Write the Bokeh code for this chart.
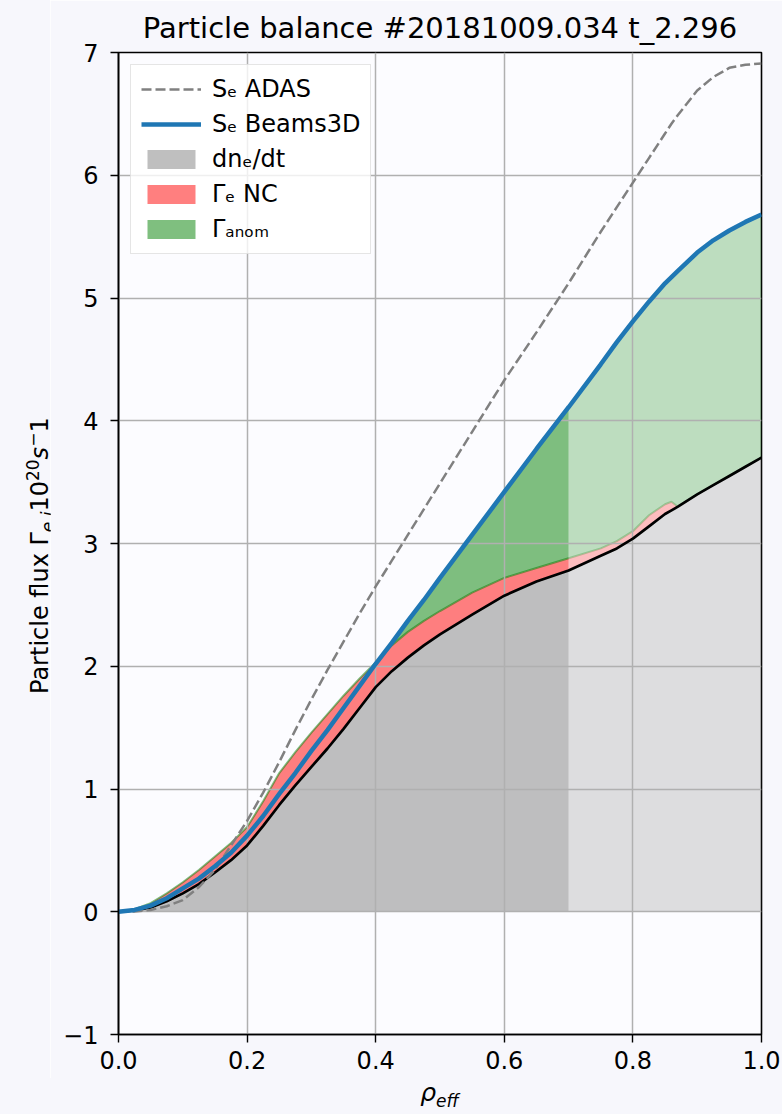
import numpy as np
from bokeh.plotting import figure
from bokeh.layouts import row, column
from bokeh.models import (FixedTicker, PrintfTickFormatter, Legend, LegendItem,
                          Range1d, Div)
from bokeh.embed import file_html
from bokeh.resources import INLINE

# ---- data ----
rho = [0.0, 0.025, 0.05, 0.075, 0.10, 0.125, 0.15, 0.175, 0.20, 0.225, 0.25, 0.275,
       0.30, 0.325, 0.35, 0.375, 0.40, 0.425, 0.45, 0.475, 0.50, 0.55, 0.60, 0.65,
       0.70, 0.75, 0.775, 0.80, 0.825, 0.85, 0.86, 0.87, 0.90, 0.925, 0.95, 0.975, 1.00]
dne_dt = [0.0, 0.01, 0.035, 0.085, 0.15, 0.225, 0.32, 0.42, 0.54, 0.70, 0.87, 1.03,
          1.18, 1.33, 1.49, 1.66, 1.83, 1.96, 2.07, 2.17, 2.26, 2.42, 2.575, 2.69,
          2.78, 2.90, 2.96, 3.04, 3.14, 3.24, 3.27, 3.30, 3.40, 3.475, 3.55, 3.625, 3.70]
gamma_nc = [0.0, 0.01, 0.035, 0.065, 0.09, 0.115, 0.13, 0.14, 0.15, 0.20, 0.26, 0.27,
            0.28, 0.28, 0.27, 0.24, 0.20, 0.21, 0.21, 0.20, 0.19, 0.18, 0.145, 0.11,
            0.10, 0.06, 0.06, 0.06, 0.09, 0.08, 0.07, 0.0, 0.0, 0.0, 0.0, 0.0, 0.0]
se_beams3d = [0.0, 0.015, 0.05, 0.11, 0.19, 0.27, 0.37, 0.48, 0.62, 0.78, 0.96, 1.13,
              1.31, 1.48, 1.66, 1.84, 2.02, 2.19, 2.37, 2.54, 2.72, 3.07, 3.42, 3.77,
              4.11, 4.46, 4.64, 4.81, 4.97, 5.12, 5.17, 5.22, 5.37, 5.47, 5.55, 5.62, 5.68]
se_adas = [0.0, 0.003, 0.015, 0.045, 0.095, 0.20, 0.34, 0.54, 0.74, 0.97, 1.22, 1.48,
           1.73, 1.97, 2.20, 2.43, 2.65, 2.86, 3.07, 3.28, 3.49, 3.91, 4.33, 4.72,
           5.12, 5.54, 5.74, 5.94, 6.14, 6.34, 6.42, 6.49, 6.69, 6.80, 6.875, 6.90, 6.91]
rho_split = 0.7
x_ticks = [0.0, 0.2, 0.4, 0.6, 0.8, 1.0]
y_ticks = [-1, 0, 1, 2, 3, 4, 5, 6, 7]

x = np.array(rho)
d = np.array(dne_dt)
top = d + np.array(gamma_nc)
b = np.array(se_beams3d)
gtop = np.maximum(b, top)
dark = x <= rho_split
light = x >= rho_split

FONT = "DejaVu Sans"
BG = "#f7f7fc"
YLAB_W = 50          # width of the y-label strip
FIG_LEFT = 68        # left border of the figure itself
FIG_W = FIG_LEFT + 643 + 21
FIG_H = 52 + 982 + 44
TOTAL_H = 1114

p = figure(frame_width=643, frame_height=982,
           x_range=Range1d(0, 1), y_range=Range1d(-1, 7),
           output_backend="svg", toolbar_location=None,
           min_border_left=FIG_LEFT, min_border_right=21,
           min_border_top=52, min_border_bottom=44,
           title="Particle balance #20181009.034 t_2.296")
p.background_fill_color = "#fcfcff"
p.border_fill_color = BG
p.outline_line_color = "black"
p.outline_line_width = 1.6
p.outline_line_alpha = 1.0

p.title.text_font = FONT
p.title.text_font_size = "29px"
p.title.text_font_style = "normal"
p.title.align = "center"
p.title.text_color = "black"
p.title.standoff = 15

# ---- filled areas (dark up to rho_split, light beyond) ----
g_dark = p.varea(x[dark], np.zeros(dark.sum()), d[dark], fill_color="gray",
                 fill_alpha=0.5, level="image")
p.varea(x[light], np.zeros(light.sum()), d[light], fill_color="gray",
        fill_alpha=0.25, level="image")
r_dark = p.varea(x[dark], d[dark], top[dark], fill_color="red",
                 fill_alpha=0.5, level="image")
p.varea(x[light], d[light], top[light], fill_color="red",
        fill_alpha=0.25, level="image")
a_dark = p.varea(x[dark], top[dark], gtop[dark], fill_color="green",
                 fill_alpha=0.5, level="image")
p.varea(x[light], top[light], gtop[light], fill_color="green",
        fill_alpha=0.25, level="image")
p.line(x[dark], top[dark], line_color="green", line_alpha=0.5, line_width=2,
       level="image")
p.line(x[light], top[light], line_color="green", line_alpha=0.25, line_width=2,
       level="image")

# ---- lines ----
p.line(x, d, line_color="black", line_width=2.7)
adas_r = p.line(x, se_adas, line_color="gray", line_width=2.5, line_dash="10 4")
beams_r = p.line(x, b, line_color="#1f77b4", line_width=4.5)

# ---- axes ----
p.xaxis.ticker = FixedTicker(ticks=x_ticks)
p.xaxis.formatter = PrintfTickFormatter(format="%.1f")
p.yaxis.ticker = FixedTicker(ticks=y_ticks)
p.yaxis.major_label_overrides = {-1: "\u22121"}
for ax in (p.xaxis, p.yaxis):
    ax.axis_line_width = 1.6
    ax.axis_line_color = "black"
    ax.major_tick_line_width = 1.4
    ax.major_tick_line_color = "black"
    ax.major_tick_out = 8
    ax.major_tick_in = 0
    ax.minor_tick_line_color = None
    ax.major_label_text_font = FONT
    ax.major_label_text_font_size = "24px"
    ax.major_label_text_color = "black"
p.xaxis.major_label_standoff = 8
p.yaxis.major_label_standoff = 12

p.grid.grid_line_color = "#b0b0b0"
p.grid.grid_line_width = 1.5

# ---- legend ----
legend = Legend(items=[
    LegendItem(label="S\u2091 ADAS", renderers=[adas_r]),
    LegendItem(label="S\u2091 Beams3D", renderers=[beams_r]),
    LegendItem(label="dn\u2091/dt", renderers=[g_dark]),
    LegendItem(label="\u0393\u2091 NC", renderers=[r_dark]),
    LegendItem(label="\u0393\u2090\u2099\u2092\u2098", renderers=[a_dark]),
], location="top_left")
legend.margin = 12
legend.padding = 10
legend.spacing = 7
legend.glyph_width = 60
legend.glyph_height = 24
legend.label_height = 24
legend.label_standoff = 11
legend.label_text_font = FONT
legend.label_text_font_size = "24px"
legend.label_text_color = "black"
legend.border_line_color = "#cccccc"
legend.border_line_width = 1.5
legend.background_fill_color = "white"
legend.background_fill_alpha = 0.8
p.add_layout(legend)

# ---- axis labels with sub/superscripts (HTML text) ----
ylab_html = (
    f'<div style="position:relative;box-sizing:border-box;width:{YLAB_W}px;'
    f'height:{TOTAL_H}px;background:{BG};">'
    '<div style="position:absolute;left:26px;top:694px;transform-origin:0 0;'
    'transform:rotate(-90deg);white-space:nowrap;font-family:\'DejaVu Sans\';'
    'font-size:24px;line-height:28px;color:black;">'
    'Particle flux \u0393<sub style="font-size:17px;line-height:0"><i>e,i</i></sub>'
    '10<sup style="font-size:17px;line-height:0">20</sup><i>s</i>'
    '<sup style="font-size:17px;line-height:0">\u2212</sup>1</div></div>'
)
ylab = Div(text=ylab_html, width=YLAB_W, height=TOTAL_H, margin=0,
           styles={"background-color": BG})

xlab_pad = 2 * (FIG_LEFT + 643 / 2) - FIG_W
xlab_html = (
    f'<div style="box-sizing:border-box;width:{FIG_W}px;'
    f'padding-left:{xlab_pad:.0f}px;height:{TOTAL_H - FIG_H}px;background:{BG};'
    'text-align:center;font-family:\'DejaVu Sans\';font-size:25px;'
    'line-height:30px;color:black;">'
    '<i>\u03c1</i><sub style="font-size:17px;line-height:0"><i>eff</i></sub></div>'
)
xlab = Div(text=xlab_html, width=FIG_W, height=TOTAL_H - FIG_H, margin=0,
           styles={"background-color": BG})

layout = row(ylab, column(p, xlab, spacing=0), spacing=0)

open("out.html", "w").write(file_html(layout, INLINE))
